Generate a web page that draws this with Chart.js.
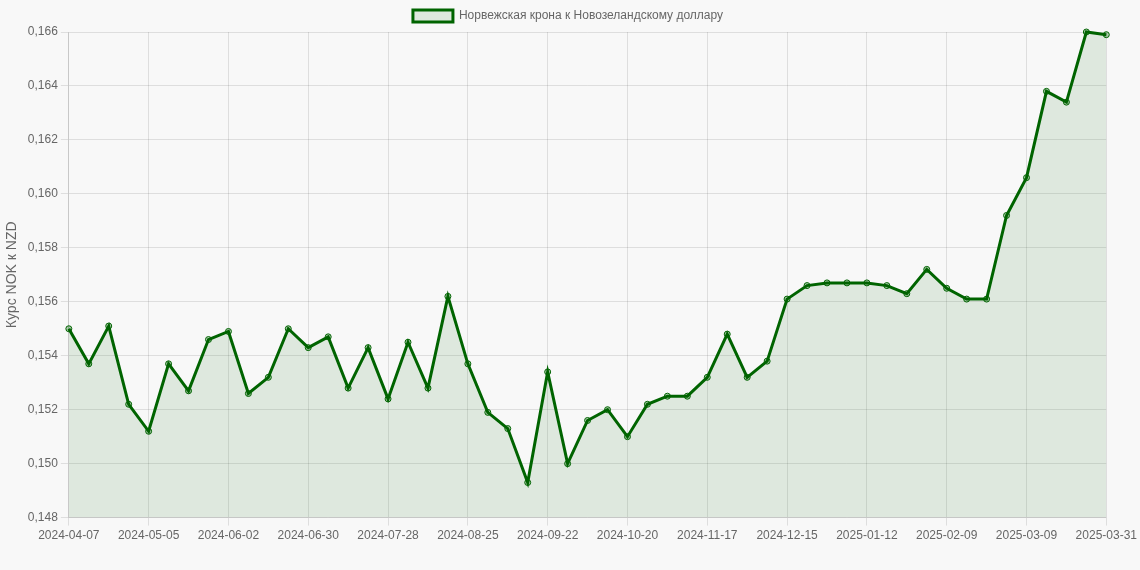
<!DOCTYPE html>
<html><head><meta charset="utf-8">
<script src="https://cdn.jsdelivr.net/npm/chart.js@4"></script>
<style>html,body{margin:0;background:#f8f8f8;}#w{width:1140px;height:570px;}</style>
</head><body><div id="w"><canvas id="c"></canvas></div>
<script>
const startDate = '2024-04-07';
const weeks = 52;
const lastLabel = '2025-03-31';
const values = [0.1550,0.1537,0.1551,0.1522,0.1512,0.1537,0.1527,0.1546,0.1549,0.1526,0.1532,0.1550,0.1543,0.1547,0.1528,0.1543,0.1524,0.1545,0.1528,0.1562,0.1537,0.1519,0.1513,0.1493,0.1534,0.1500,0.1516,0.1520,0.1510,0.1522,0.1525,0.1525,0.1532,0.1548,0.1532,0.1538,0.1561,0.1566,0.1567,0.1567,0.1567,0.1566,0.1563,0.1572,0.1565,0.1561,0.1561,0.1592,0.1606,0.1638,0.1634,0.1660,0.1659];
const labels = [];
for(let i=0;i<weeks;i++){const d=new Date(startDate+'T00:00:00Z');d.setUTCDate(d.getUTCDate()+7*i);labels.push(d.toISOString().slice(0,10));}
labels.push(lastLabel);
new Chart(document.getElementById('c'),{type:'line',
data:{labels,datasets:[{label:'Норвежская крона к Новозеландскому доллару',data:values,clip:false,
borderColor:'#006400',backgroundColor:'rgba(0,100,0,0.1)',fill:true,borderWidth:3,tension:0,
pointRadius:3,pointBackgroundColor:'rgba(0,100,0,0.3)',pointBorderColor:'#006400',pointBorderWidth:1}]},
options:{responsive:true,maintainAspectRatio:false,animation:false,
layout:{padding:{right:4,bottom:24}},
plugins:{legend:{labels:{color:'#666',font:{size:12}}}},
scales:{x:{grid:{color:'rgba(0,0,0,0.1)'},ticks:{autoSkip:false,maxRotation:0,color:'#666',
callback:function(v,i){return (i%4===0||i===labels.length-1)?labels[i]:null;}}},
y:{min:0.148,max:0.166,title:{display:true,text:'Курс NOK к NZD',color:'#666',font:{size:14}},
grid:{color:'rgba(0,0,0,0.1)'},ticks:{stepSize:0.002,color:'#666',callback:v=>v.toFixed(3).replace('.',',')}}}}});
</script></body></html>
